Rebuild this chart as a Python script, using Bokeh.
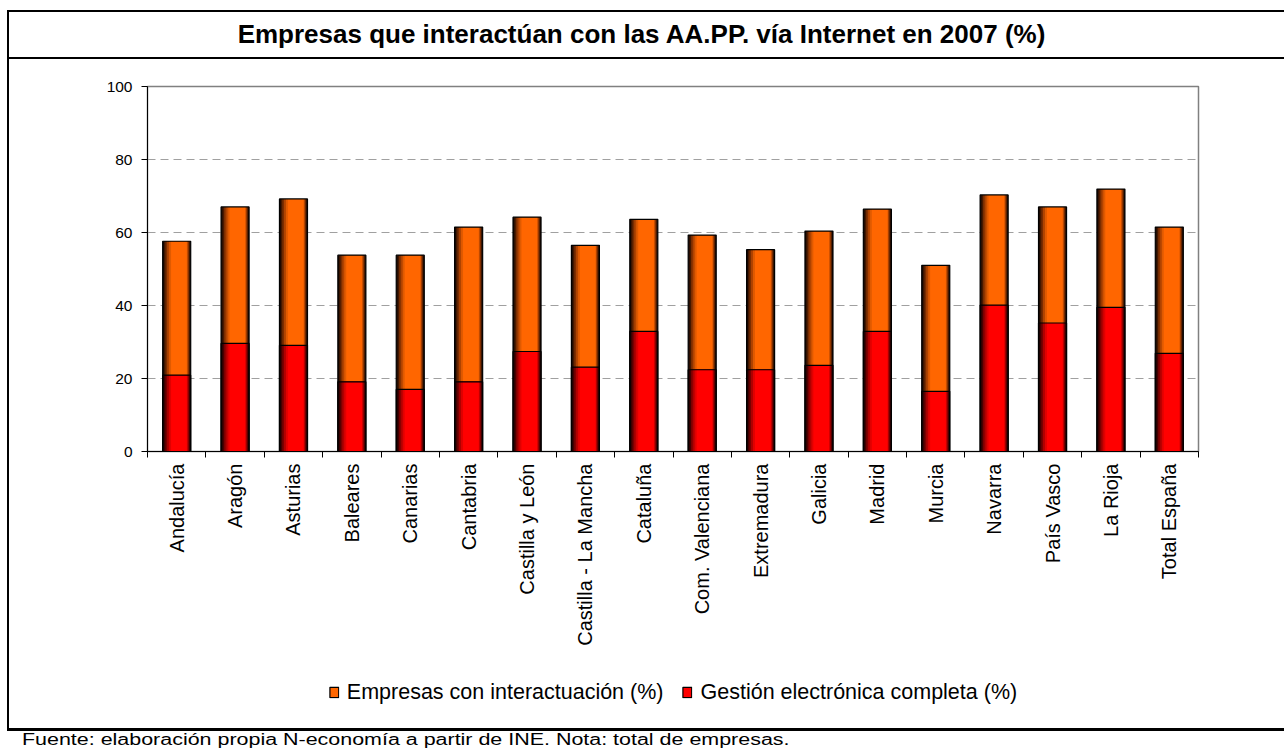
import math
from bokeh.plotting import figure
from bokeh.models import (Range1d, FixedTicker, Legend, LegendItem, ColumnDataSource, Div, Spacer)
from bokeh.layouts import column, row
from bokeh.transform import dodge
from bokeh.embed import file_html
from bokeh.resources import INLINE

# ---- data ----
regions = ["Andalucía", "Aragón", "Asturias", "Baleares", "Canarias", "Cantabria",
           "Castilla y León", "Castilla - La Mancha", "Cataluña", "Com. Valenciana",
           "Extremadura", "Galicia", "Madrid", "Murcia", "Navarra", "País Vasco",
           "La Rioja", "Total España"]
interactuacion = [57.6, 67.0, 69.2, 53.8, 53.8, 61.5, 64.2, 56.5, 63.6, 59.3,
                  55.3, 60.4, 66.4, 51.0, 70.3, 67.0, 71.9, 61.5]
gestion = [20.9, 29.6, 29.1, 19.1, 17.0, 19.1, 27.4, 23.1, 32.9, 22.4,
           22.4, 23.6, 32.9, 16.5, 40.1, 35.2, 39.5, 26.9]
y_ticks = [0, 20, 40, 60, 80, 100]
series_labels = ["Empresas con interactuación (%)", "Gestión electrónica completa (%)"]
title_text = "Empresas que interactúan con las AA.PP. vía Internet en 2007 (%)"
footer_text = "Fuente: elaboración propia N-economía a partir de INE. Nota: total de empresas."

FONT = "Liberation Sans"
n = len(regions)
xs = list(range(n))
boundaries = [i - 0.5 for i in range(n + 1)]

src = ColumnDataSource(dict(x=xs, total=interactuacion, full=gestion))

FIG_W = 1275
MAIN_H = 592
LEG_H = 77
p = figure(width=FIG_W, height=MAIN_H, output_backend="svg", toolbar_location=None,
           x_range=Range1d(-0.5, n - 0.5), y_range=Range1d(0, 100),
           min_border_left=138, min_border_right=86, min_border_top=27, min_border_bottom=200)

p.background_fill_color = "white"
p.border_fill_color = "white"
p.outline_line_color = "#808080"
p.outline_line_width = 1.5

# axes
p.xaxis.ticker = FixedTicker(ticks=xs, minor_ticks=boundaries)
p.xaxis.major_label_overrides = {i: r for i, r in enumerate(regions)}
p.xaxis.major_label_orientation = math.pi / 2
p.xaxis.major_tick_line_color = None
p.xaxis.major_tick_out = 6
p.xaxis.major_tick_in = 0
p.xaxis.minor_tick_line_color = "black"
p.xaxis.minor_tick_out = 6
p.xaxis.minor_tick_in = 0
p.xaxis.major_label_standoff = 6
p.xaxis.major_label_text_font = FONT
p.xaxis.major_label_text_font_size = "20px"
p.xaxis.major_label_text_color = "black"
p.xaxis.axis_line_color = "black"

p.yaxis.ticker = FixedTicker(ticks=y_ticks)
p.yaxis.major_tick_out = 6
p.yaxis.major_tick_in = 0
p.yaxis.major_tick_line_color = "black"
p.yaxis.minor_tick_line_color = None
p.yaxis.major_label_standoff = 9
p.yaxis.major_label_text_font = FONT
p.yaxis.major_label_text_font_size = "15.5px"
p.yaxis.major_label_text_color = "black"
p.yaxis.axis_line_color = "black"

p.xgrid.visible = False
p.ygrid.grid_line_color = "#a0a0a0"
p.ygrid.grid_line_dash = "8 5"
p.ygrid.grid_line_width = 1

# shaded bars (layered to mimic the gradient)
BW = 0.48
layers = [(0.00, 1.00), (0.05, 0.97), (0.10, 0.94), (0.16, 0.91), (0.23, 0.88), (0.30, 0.86)]
orange_cols = ["#1a0800", "#431800", "#7a2d00", "#b04300", "#e05a00", "#ff6600"]
red_cols = ["#1a0000", "#430000", "#7a0000", "#b00000", "#e00000", "#ff0000"]

def draw_series(fig, field, cols):
    rends = []
    for (l, r), c in zip(layers, cols):
        w = (r - l) * BW
        off = ((l + r) / 2 - 0.5) * BW
        rends.append(fig.vbar(x=dodge("x", off), top=field, bottom=0, width=w, source=src,
                              fill_color=c, line_color=None))
    rends.append(fig.vbar(x="x", top=field, bottom=0, width=BW, source=src,
                          fill_color=None, line_color="black", line_width=1.2))
    return rends

draw_series(p, "total", orange_cols)
draw_series(p, "full", red_cols)

# ---- legend strip below the axis labels (same series, drawn out of view) ----
lg = figure(width=FIG_W, height=LEG_H, output_backend="svg", toolbar_location=None,
            x_range=Range1d(100, 101), y_range=Range1d(200, 201),
            x_axis_location=None, y_axis_location=None,
            min_border_left=55, min_border_right=0, min_border_top=5, min_border_bottom=0)
lg.outline_line_color = None
lg.grid.visible = False
lg.background_fill_color = "white"
lg.border_fill_color = "white"
leg_items = []
for lab, field, cols in zip(series_labels, ["total", "full"], [orange_cols, red_cols]):
    rr = draw_series(lg, field, cols)
    leg_items.append(LegendItem(label=lab, renderers=[rr[0], rr[-2], rr[-1]]))
legend = Legend(items=leg_items, orientation="horizontal", location="center",
                padding=0, margin=0, spacing=18, label_standoff=8,
                glyph_width=11, glyph_height=13,
                label_text_font=FONT, label_text_font_size="21.5px", label_text_color="black",
                border_line_color=None, background_fill_alpha=0)
lg.add_layout(legend)

# ---- surrounding frame, title and footer ----
def block(w, h, color):
    return Div(text="", width=w, height=h, margin=0, styles={"background-color": color})

title_div = Div(
    text=('<div style="margin:0;width:1265px;height:45px;line-height:45px;text-align:center;'
          'font-family:\'Liberation Sans\',Arial,sans-serif;font-size:26px;font-weight:bold;'
          'color:black;white-space:nowrap;">' + title_text + '</div>'),
    width=1275, height=45, margin=0)

footer_div = Div(
    text=('<div style="margin:0;padding:0;position:relative;left:22px;top:0px;height:18px;'
          'line-height:18px;font-family:\'Liberation Sans\',Arial,sans-serif;font-size:16px;'
          'color:black;white-space:nowrap;transform:scaleX(1.34);transform-origin:0 50%;">'
          + footer_text + '</div>'),
    width=1284, height=18, margin=0)

layout = column(
    Spacer(width=1284, height=10),
    row(Spacer(width=7, height=2), block(1277, 2, "black")),
    row(Spacer(width=7, height=45), block(2, 45, "black"), title_div),
    row(Spacer(width=7, height=2), block(1277, 2, "black")),
    row(Spacer(width=7, height=MAIN_H + LEG_H), block(2, MAIN_H + LEG_H, "black"),
        column(p, lg, spacing=0)),
    row(Spacer(width=7, height=3), block(1277, 3, "black")),
    footer_div,
    spacing=0,
)

open("out.html", "w").write(file_html(layout, INLINE))
